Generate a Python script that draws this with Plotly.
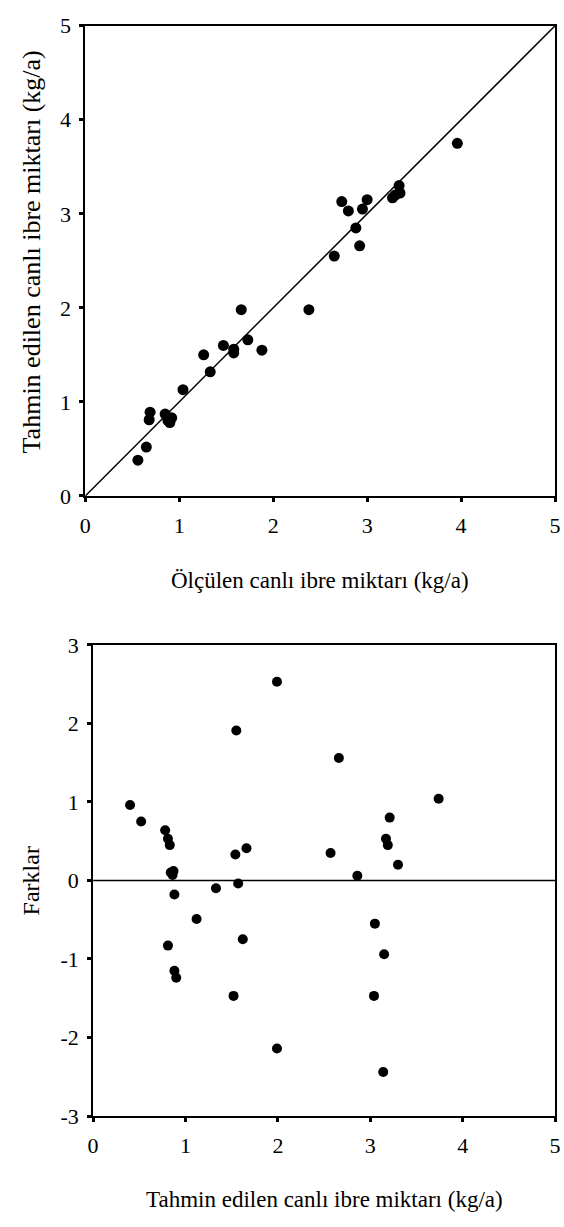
import plotly.graph_objects as go

# Top panel: measured vs. predicted live seed amount
olculen = [0.56, 0.65, 0.68, 0.69, 0.85, 0.88, 0.90, 0.92, 1.04, 1.26, 1.33, 1.47, 1.58, 1.58, 1.66,
           1.73, 1.88, 2.38, 2.65, 2.73, 2.80, 2.88, 2.92, 2.95, 3.00, 3.27, 3.30, 3.34, 3.35, 3.96]
tahmin = [0.38, 0.52, 0.81, 0.89, 0.87, 0.80, 0.78, 0.83, 1.13, 1.50, 1.32, 1.60, 1.56, 1.52, 1.98,
          1.66, 1.55, 1.98, 2.55, 3.13, 3.03, 2.85, 2.66, 3.05, 3.15, 3.17, 3.20, 3.30, 3.22, 3.75]

# Bottom panel: predicted amount vs. differences
tahmin_fark = [0.40, 0.52, 0.78, 0.81, 0.83, 0.84, 0.87, 0.86, 0.88, 0.81, 0.88, 0.90, 1.12, 1.33,
               1.52, 1.54, 1.55, 1.57, 1.62, 1.66, 1.99, 1.99, 2.57, 2.66, 2.86, 3.04, 3.05, 3.14,
               3.15, 3.17, 3.19, 3.21, 3.30, 3.74]
farklar = [0.96, 0.75, 0.64, 0.53, 0.45, 0.10, 0.12, 0.07, -0.18, -0.83, -1.15, -1.24, -0.49, -0.10,
           -1.47, 0.33, 1.91, -0.04, -0.75, 0.41, 2.53, -2.14, 0.35, 1.56, 0.06, -1.47, -0.55, -2.44,
           -0.94, 0.53, 0.45, 0.80, 0.20, 1.04]

ust_ticks = [0, 1, 2, 3, 4, 5]
ust_labels = ["0", "1", "2", "3", "4", "5"]
alt_yticks = [-3, -2, -1, 0, 1, 2, 3]
alt_ylabels = ["-3", "-2", "-1", "0", "1", "2", "3"]

x_title_1 = "Ölçülen canlı ibre miktarı (kg/a)"
y_title_1 = "Tahmin edilen canlı ibre miktarı (kg/a)"
x_title_2 = "Tahmin edilen canlı ibre miktarı (kg/a)"
y_title_2 = "Farklar"

W, H = 564, 1227
FONT = "Liberation Serif"

fig = go.Figure()

# 1:1 reference line
fig.add_trace(go.Scatter(x=[0, 5], y=[0, 5], mode="lines",
                         line=dict(color="black", width=1.5), xaxis="x", yaxis="y",
                         hoverinfo="skip"))
fig.add_trace(go.Scatter(x=olculen, y=tahmin, mode="markers",
                         marker=dict(color="black", size=11), xaxis="x", yaxis="y"))

# zero line
fig.add_trace(go.Scatter(x=[0, 5], y=[0, 0], mode="lines",
                         line=dict(color="black", width=1.5), xaxis="x2", yaxis="y2",
                         hoverinfo="skip"))
fig.add_trace(go.Scatter(x=tahmin_fark, y=farklar, mode="markers",
                         marker=dict(color="black", size=10), xaxis="x2", yaxis="y2"))


def px_x(p):
    return p / W


def px_y(p):
    return 1 - p / H


axis_common = dict(showgrid=False, zeroline=False, showline=True, linecolor="black",
                   linewidth=2, mirror=True, ticks="outside", ticklen=4, tickwidth=3,
                   tickcolor="black", ticklabeloverflow="allow",
                   tickfont=dict(family=FONT, size=22, color="black"))
x_common = dict(ticklabelstandoff=5, **axis_common)
y_common = dict(ticklabelstandoff=4, **axis_common)

fig.update_layout(
    width=W, height=H,
    margin=dict(l=0, r=0, t=0, b=0),
    paper_bgcolor="white", plot_bgcolor="white",
    showlegend=False,
    font=dict(family=FONT),
    xaxis=dict(domain=[px_x(81), px_x(561)], range=[0, 5], tickvals=ust_ticks,
               ticktext=ust_labels, anchor="y", **x_common),
    yaxis=dict(domain=[px_y(494), px_y(14)], range=[0, 5], tickvals=ust_ticks,
               ticktext=ust_labels, anchor="x", **y_common),
    xaxis2=dict(domain=[px_x(89), px_x(561)], range=[0, 5], tickvals=ust_ticks,
                ticktext=ust_labels, anchor="y2", **x_common),
    yaxis2=dict(domain=[px_y(1127), px_y(646)], range=[-3, 3], tickvals=alt_yticks,
                ticktext=alt_ylabels, anchor="x2", **y_common),
)

title_font = dict(family=FONT, size=23, color="black")
fig.add_annotation(text=x_title_1, x=px_x(321), y=px_y(580), xref="paper", yref="paper",
                   showarrow=False, font=title_font, xanchor="center", yanchor="middle")
fig.add_annotation(text=y_title_1, x=px_x(26), y=px_y(245), xref="paper", yref="paper",
                   showarrow=False, font=dict(family=FONT, size=26, color="black"),
                   textangle=-90, xanchor="center", yanchor="middle")
fig.add_annotation(text=x_title_2, x=px_x(325), y=px_y(1212), xref="paper", yref="paper",
                   showarrow=False, font=title_font, xanchor="center", yanchor="middle")
fig.add_annotation(text=y_title_2, x=px_x(25), y=px_y(887), xref="paper", yref="paper",
                   showarrow=False, font=dict(family=FONT, size=24, color="black"),
                   textangle=-90, xanchor="center", yanchor="middle")

fig.write_html("out.html")
